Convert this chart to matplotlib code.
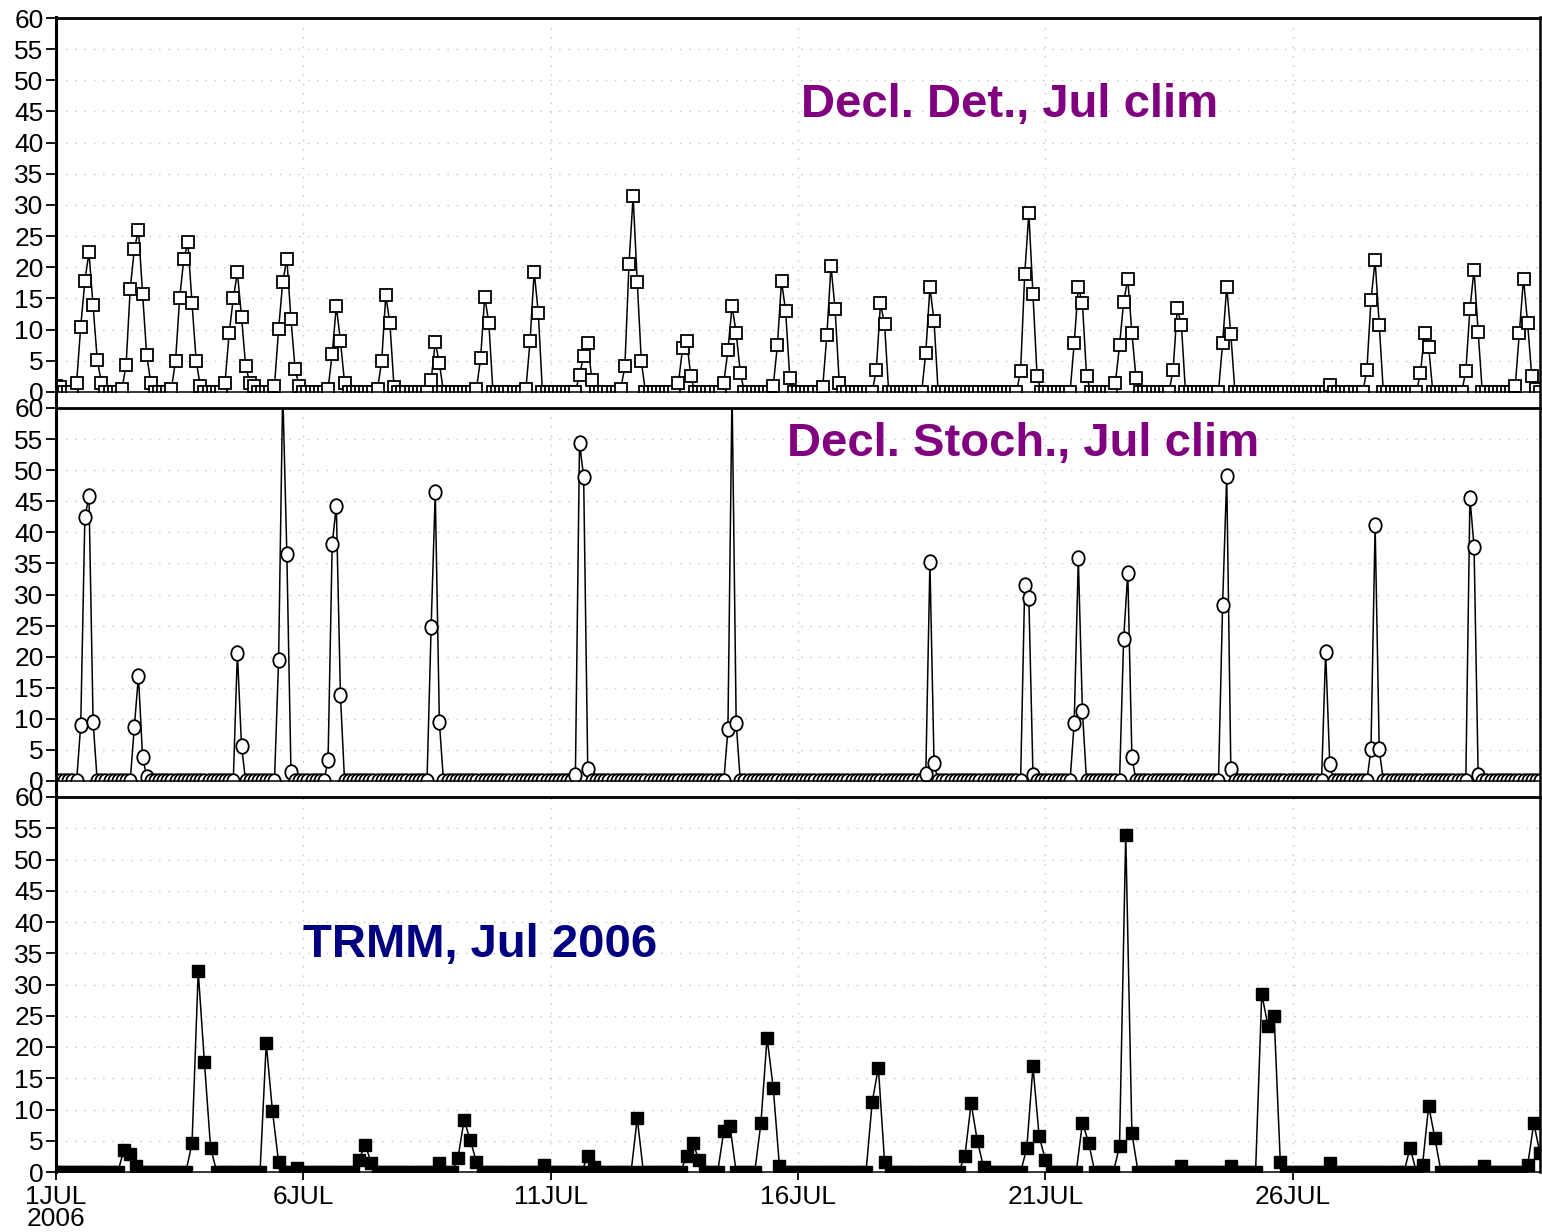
import numpy as np
import matplotlib.pyplot as plt
from matplotlib.lines import Line2D
from matplotlib.path import Path
from matplotlib.transforms import Affine2D

plt.rcParams['font.family'] = ['Liberation Sans', 'DejaVu Sans']

W, H = 1542, 1232

# time axis: model output every 2 h, TRMM every 3 h, 1 JUL 00Z .. 31 JUL 00Z
n_model = 361
n_trmm = 241

# rain bursts as (first step, values); zero everywhere else
det_bursts = [
    (0, [1.0, 0.8]),
    (5, [1.5, 10.5, 17.8, 22.4, 13.9, 5.2, 1.5]),
    (16, [0.5, 4.3, 16.5, 22.9, 26.0, 15.8, 5.9, 1.5]),
    (28, [0.5, 5.0, 15.1, 21.3, 24.0, 14.2, 5.0, 1.0]),
    (41, [1.5, 9.4, 15.0, 19.2, 12.1, 4.2, 1.5, 0.9]),
    (53, [1.0, 10.1, 17.6, 21.4, 11.7, 3.7, 0.9]),
    (66, [0.5, 6.1, 13.8, 8.2, 1.5]),
    (78, [0.5, 4.9, 15.5, 11.0, 0.8]),
    (91, [1.9, 8.0, 4.6]),
    (102, [0.5, 5.4, 15.3, 11.1]),
    (114, [0.5, 8.2, 19.3, 12.7]),
    (127, [2.8, 5.7, 7.9, 1.9]),
    (137, [0.5, 4.1, 20.5, 31.4, 17.7, 4.9]),
    (151, [1.5, 7.0, 8.2, 2.5]),
    (162, [1.5, 6.7, 13.8, 9.5, 3.1]),
    (174, [1.0, 7.5, 17.8, 13.0, 2.3]),
    (186, [0.8, 9.1, 20.2, 13.3, 1.5]),
    (199, [3.6, 14.2, 10.9]),
    (211, [6.3, 16.8, 11.4]),
    (234, [3.4, 18.9, 28.7, 15.7, 2.6]),
    (247, [7.8, 16.9, 14.2, 2.6]),
    (257, [1.5, 7.5, 14.5, 18.1, 9.5, 2.2]),
    (271, [3.6, 13.4, 10.8]),
    (283, [7.8, 16.9, 9.3]),
    (309, [1.2]),
    (318, [3.5, 14.8, 21.1, 10.8]),
    (331, [3.0, 9.5, 7.2]),
    (342, [3.3, 13.3, 19.6, 9.6]),
    (354, [1.0, 9.5, 18.2, 11.0, 2.5, 0.5]),
]

sto_bursts = [
    (6, [9.0, 42.4, 45.8, 9.5]),
    (19, [8.7, 16.9, 3.9, 0.7]),
    (44, [20.6, 5.7]),
    (54, [19.5, 63.0, 36.5, 1.5]),
    (66, [3.4, 38.1, 44.2, 13.8]),
    (91, [24.7, 46.5, 9.5]),
    (126, [1.0, 54.4, 48.9, 1.9]),
    (163, [8.3, 63.0, 9.4]),
    (211, [1.1, 35.2, 2.9]),
    (235, [31.6, 29.5, 1.0]),
    (247, [9.4, 35.8, 11.2]),
    (259, [22.9, 33.5, 3.9]),
    (283, [28.3, 49.1, 2.0]),
    (308, [20.8, 2.7]),
    (319, [5.2, 41.2, 5.1]),
    (343, [45.6, 37.7, 0.9]),
]

trmm_bursts = [
    (11, [3.6, 2.9, 1.0]),
    (22, [4.6, 32.1, 17.6, 3.9]),
    (34, [20.6, 9.8, 1.6]),
    (39, [0.6]),
    (49, [2.0, 4.3, 1.5]),
    (62, [1.4]),
    (65, [2.2, 8.3, 5.1, 1.6]),
    (79, [1.1]),
    (86, [2.6, 0.8]),
    (94, [8.6]),
    (102, [2.6, 4.6, 1.9]),
    (108, [6.5, 7.4]),
    (114, [7.8, 21.5, 13.4, 0.9]),
    (132, [11.2, 16.7, 1.6]),
    (147, [2.6, 11.0, 5.0, 0.8]),
    (157, [3.8, 16.9, 5.7, 2.0]),
    (166, [7.9, 4.7]),
    (172, [4.1, 54.0, 6.2]),
    (182, [1.0]),
    (190, [0.9]),
    (195, [28.5, 23.4, 25.0, 1.6]),
    (206, [1.4]),
    (219, [3.9, 0.0, 1.1, 10.6, 5.4]),
    (231, [1.0]),
    (238, [1.1, 7.8, 3.0]),
]

day_ticks = [0, 5, 10, 15, 20, 25]
day_labels = ['1JUL\n2006', '6JUL', '11JUL', '16JUL', '21JUL', '26JUL']


def build(n, bursts):
    y = np.zeros(n)
    for start, vals in bursts:
        y[start:start + len(vals)] = vals
    return y


det = build(n_model, det_bursts)
sto = build(n_model, sto_bursts)
trmm = build(n_trmm, trmm_bursts)
t_model = np.arange(n_model) / 12.0
t_trmm = np.arange(n_trmm) / 8.0

# slightly tall open circles
oval = Path.unit_circle().transformed(Affine2D().scale(0.85, 1.0))

fig = plt.figure(figsize=(W / 100, H / 100), dpi=100)

X0, X1 = 56, 1540


def panel(top, bottom):
    ax = fig.add_axes([X0 / W, 1 - bottom / H, (X1 - X0) / W, (bottom - top) / H])
    ax.set_xlim(0, 30)
    ax.set_ylim(0, 60)
    ax.set_yticks(range(0, 61, 5))
    ax.set_xticks(day_ticks)
    ax.tick_params(axis='y', direction='out', length=7, width=1.3,
                   labelsize=19, pad=2, right=False)
    ax.tick_params(axis='x', direction='out', length=6, width=1.3,
                   labelsize=19, pad=3, top=False)
    ax.grid(True, color='#cccccc', linestyle=(0, (1.2, 5.5)), linewidth=1.0)
    ax.set_axisbelow(True)
    ax.spines['left'].set_visible(False)
    ax.spines['right'].set_visible(False)
    ax.spines['top'].set_linewidth(2.0)
    ax.spines['bottom'].set_linewidth(1.1)
    return ax


ax1 = panel(18, 392)
ax2 = panel(408, 781)
ax3 = panel(797, 1172)

for ax in (ax1, ax2):
    ax.tick_params(axis='x', bottom=False, labelbottom=False)

ax3.set_xticklabels(day_labels, linespacing=0.9)

ax1.plot(t_model, det, color='black', linewidth=1.1, marker='s', markersize=9,
         markerfacecolor='white', markeredgecolor='black', markeredgewidth=1.3)
ax2.plot(t_model, sto, color='black', linewidth=1.1, marker=oval, markersize=10.5,
         markerfacecolor='white', markeredgecolor='black', markeredgewidth=1.3)
ax3.plot(t_trmm, trmm, color='black', linewidth=1.1, marker='s', markersize=8.5,
         markerfacecolor='black', markeredgecolor='black', markeredgewidth=1.0)

# frame sides run through the gaps between panels
for x, lw in ((X0, 2.2), (X1, 1.8)):
    fig.add_artist(Line2D([x / W, x / W], [1 - 1172 / H, 1 - 17 / H],
                          transform=fig.transFigure, color='black', linewidth=lw))

fig.text(801 / W, 1 - 117 / H, 'Decl. Det., Jul clim', color='#800080',
         fontsize=34, fontweight='bold', va='baseline', ha='left')
fig.text(787 / W, 1 - 456 / H, 'Decl. Stoch., Jul clim', color='#800080',
         fontsize=34, fontweight='bold', va='baseline', ha='left')
fig.text(303 / W, 1 - 957 / H, 'TRMM, Jul 2006', color='#000080',
         fontsize=34, fontweight='bold', va='baseline', ha='left')

fig.savefig('out.png', dpi=100)
